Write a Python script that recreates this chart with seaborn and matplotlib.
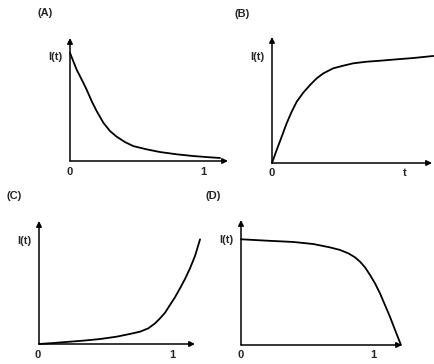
import numpy as np
import matplotlib
matplotlib.use("Agg")
import matplotlib.pyplot as plt
import seaborn as sns

t_a = [0, 0.025, 0.050, 0.088, 0.125, 0.163, 0.201, 0.251, 0.301, 0.351,
       0.414, 0.476, 0.576, 0.677, 0.802, 0.927, 1.053, 1.128]
i_a = [1.0, 0.923, 0.846, 0.754, 0.661, 0.554, 0.461, 0.354, 0.277, 0.225,
       0.175, 0.138, 0.108, 0.083, 0.062, 0.046, 0.034, 0.028]

t_b = [0, 0.035, 0.073, 0.110, 0.148, 0.186, 0.235, 0.286, 0.336, 0.386,
       0.461, 0.536, 0.611, 0.712, 0.812, 0.938, 1.062, 1.213]
i_b = [0.0, 0.12, 0.244, 0.367, 0.475, 0.568, 0.651, 0.722, 0.784, 0.830,
       0.877, 0.901, 0.923, 0.938, 0.947, 0.960, 0.972, 0.991]

t_c = [0, 0.108, 0.210, 0.336, 0.462, 0.589, 0.689, 0.765, 0.828, 0.879,
       0.917, 0.955, 0.992, 1.030, 1.068, 1.106, 1.144, 1.182, 1.220]
i_c = [0.0, 0.009, 0.019, 0.031, 0.046, 0.068, 0.093, 0.114, 0.145, 0.191,
       0.238, 0.290, 0.361, 0.432, 0.515, 0.602, 0.701, 0.815, 0.969]

t_d = [0, 0.196, 0.399, 0.552, 0.679, 0.756, 0.819, 0.870, 0.908, 0.947,
       0.985, 1.023, 1.061, 1.099, 1.137, 1.176, 1.221]
i_d = [0.979, 0.966, 0.954, 0.935, 0.904, 0.880, 0.849, 0.812, 0.772, 0.719,
       0.648, 0.571, 0.478, 0.370, 0.262, 0.139, 0.0]

panel_names = ["(A)", "(B)", "(C)", "(D)"]
y_label = "I(t)"

sns.set_style("white")
plt.rcParams['font.family'] = ['Liberation Sans', 'DejaVu Sans']

W, H = 435, 364
fig = plt.figure(figsize=(W / 100, H / 100), dpi=100)


def px_text(x, y, s, size=8, **kw):
    fig.text(x / W, 1 - y / H, s, fontsize=size, fontweight="bold",
             ha="center", va="center", **kw)


# panel box in pixels: origin (x0, y0), x-arrow end, y-arrow top, px per unit
def make_panel(x0, y0, xend, ytop, ux, uy, t, i):
    ax = fig.add_axes([x0 / W, 1 - y0 / H, (xend - x0) / W, (y0 - ytop) / H])
    xmax = (xend - x0) / ux
    ymax = (y0 - ytop) / uy
    ax.set_xlim(0, xmax)
    ax.set_ylim(0, ymax)
    sns.lineplot(x=t, y=i, ax=ax, color="black", lw=1.3, sort=False)
    ax.lines[-1].set_clip_on(False)
    arrow = dict(arrowstyle="-|>", color="black", lw=1.1, mutation_scale=8,
                 shrinkA=0, shrinkB=0)
    ax.annotate("", xy=(xmax, 0), xytext=(0, 0), arrowprops=arrow,
                annotation_clip=False)
    ax.annotate("", xy=(0, ymax), xytext=(0, 0), arrowprops=arrow,
                annotation_clip=False)
    ax.axis("off")
    return ax


make_panel(70, 161, 228, 38, 133, 108, t_a, i_a)
make_panel(272, 163, 432, 37, 133, 108, t_b, i_b)
make_panel(39, 344, 195, 221, 132, 108, t_c, i_c)
make_panel(241, 345, 402, 220, 131, 108, t_d, i_d)

# panel letters
px_text(45, 13, panel_names[0])
px_text(242, 14, panel_names[1])
px_text(14, 196, panel_names[2])
px_text(213, 196, panel_names[3])

# y labels
px_text(55, 57, y_label)
px_text(257, 57, y_label)
px_text(24, 241, y_label)
px_text(226, 240, y_label)

# tick labels
px_text(70, 172, "0")
px_text(203, 172, "1")
px_text(272, 173, "0")
px_text(405, 173, "t")
px_text(38, 355, "0")
px_text(172, 355, "1")
px_text(241, 355, "0")
px_text(373, 355, "1")

fig.savefig("out.png", dpi=100, facecolor="white")
